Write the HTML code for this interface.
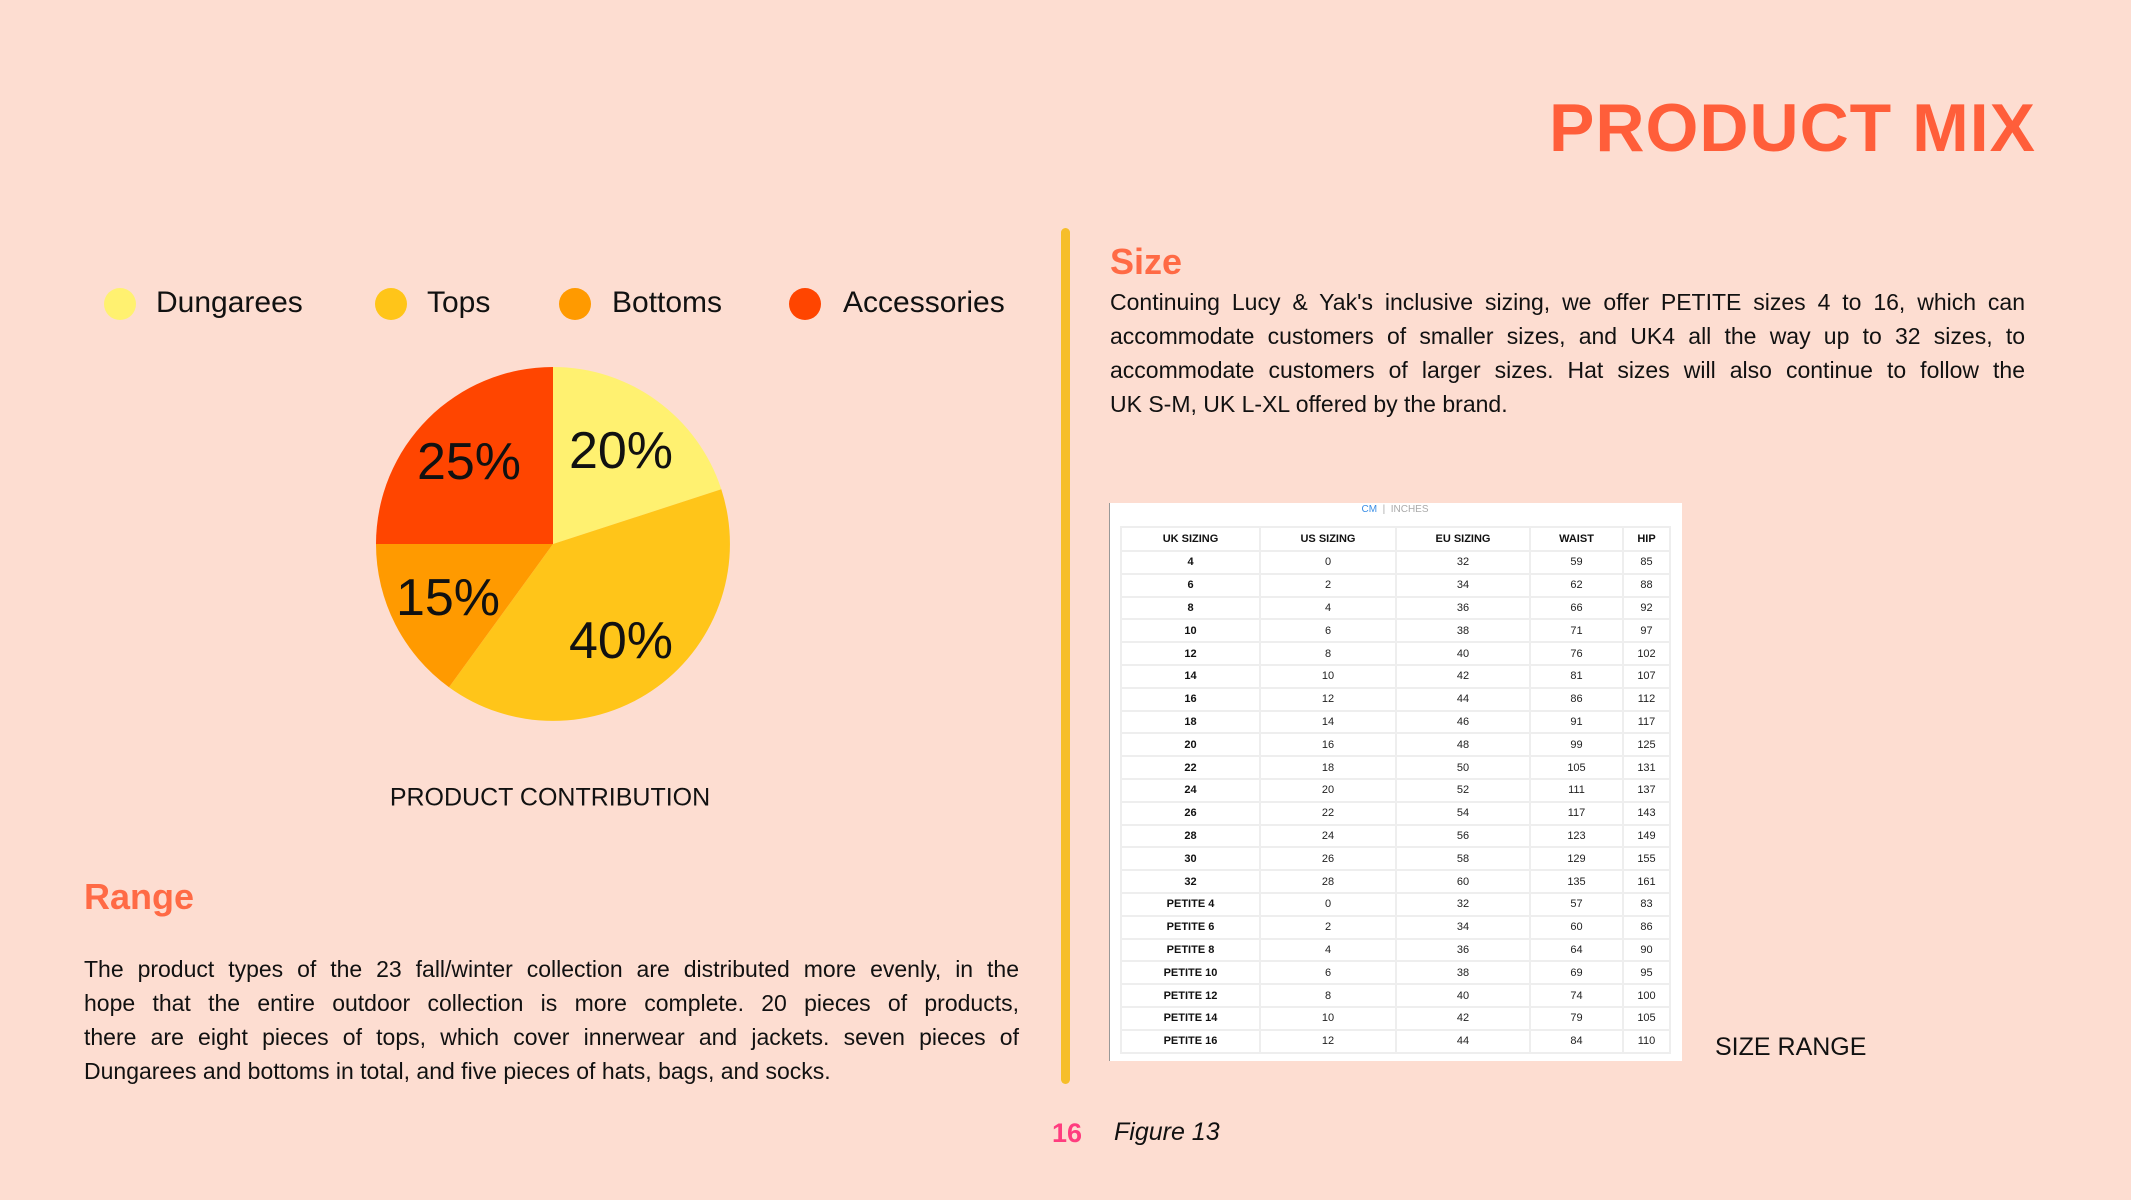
<!DOCTYPE html>
<html><head><meta charset="utf-8"><style>
*{margin:0;padding:0;box-sizing:border-box}
body{width:2131px;height:1200px;background:#FDDDD1;font-family:"Liberation Sans",sans-serif;position:relative;overflow:hidden;color:#111}
.a{position:absolute;white-space:nowrap}
.title{right:95px;top:89px;font-size:68px;font-weight:bold;color:#FF5E3A;letter-spacing:1px}
.leg{font-size:30px;top:286px}
.dot{position:absolute;width:32px;height:32px;border-radius:50%;top:288px}
.pl{font-size:52px;color:#111;transform:translate(-50%,-50%)}
.h{font-size:36px;font-weight:bold;color:#FF6A45}
.para div{text-align:justify;text-align-last:justify;height:34px;white-space:nowrap}
.para div.last{text-align-last:left}
.para{position:absolute;font-size:23px;line-height:34px}
table{border-collapse:collapse;font-size:11px;color:#222;position:absolute;left:1120px;top:526px;width:551px}
td,th{border:2px solid #eee;text-align:center;height:22.8px;padding:0}
th{font-weight:bold;color:#111;height:24px}
td:first-child{font-weight:bold;color:#111}
</style></head><body>
<div class="a title">PRODUCT MIX</div>

<div class="dot" style="left:104px;background:#FFF170"></div>
<div class="a leg" style="left:156px">Dungarees</div>
<div class="dot" style="left:375px;background:#FFC519"></div>
<div class="a leg" style="left:427px">Tops</div>
<div class="dot" style="left:559px;background:#FF9A00"></div>
<div class="a leg" style="left:612px">Bottoms</div>
<div class="dot" style="left:789px;background:#FF4500"></div>
<div class="a leg" style="left:843px">Accessories</div>

<svg class="a" style="left:0;top:0" width="1100" height="800">
<path d="M553,544 L553,367 A177,177 0 0 1 721.3,489.3 Z" fill="#FFF170"/>
<path d="M553,544 L721.3,489.3 A177,177 0 0 1 449,687.2 Z" fill="#FFC519"/>
<path d="M553,544 L449,687.2 A177,177 0 0 1 376,544 Z" fill="#FF9A00"/>
<path d="M553,544 L376,544 A177,177 0 0 1 553,367 Z" fill="#FF4500"/>
</svg>
<div class="a pl" style="left:469px;top:462px">25%</div>
<div class="a pl" style="left:621px;top:451px">20%</div>
<div class="a pl" style="left:448px;top:598px">15%</div>
<div class="a pl" style="left:621px;top:641px">40%</div>
<div class="a" style="left:550px;top:798px;transform:translate(-50%,-50%);font-size:25px">PRODUCT CONTRIBUTION</div>

<div class="a h" style="left:84px;top:876px">Range</div>
<div class="para" style="left:84px;top:952px;width:935px">
<div>The product types of the 23 fall/winter collection are distributed more evenly, in the</div>
<div>hope that the entire outdoor collection is more complete. 20 pieces of products,</div>
<div>there are eight pieces of tops, which cover innerwear and jackets. seven pieces of</div>
<div class="last">Dungarees and bottoms in total, and five pieces of hats, bags, and socks.</div>
</div>

<div class="a" style="left:1061px;top:228px;width:9px;height:856px;background:#F6BE2A;border-radius:5px"></div>

<div class="a h" style="left:1110px;top:241px">Size</div>
<div class="para" style="left:1110px;top:285px;width:915px">
<div>Continuing Lucy &amp; Yak's inclusive sizing, we offer PETITE sizes 4 to 16, which can</div>
<div>accommodate customers of smaller sizes, and UK4 all the way up to 32 sizes, to</div>
<div>accommodate customers of larger sizes. Hat sizes will also continue to follow the</div>
<div class="last">UK S-M, UK L-XL offered by the brand.</div>
</div>

<div class="a" style="left:1109px;top:503px;width:573px;height:558px;background:#fff;border-left:1px solid #999"></div>
<div class="a" style="left:1395px;top:504px;transform:translateX(-50%);font-size:10px;color:#aaa"><span style="color:#3a8ee6">CM</span> &nbsp;|&nbsp; INCHES</div>
<table>
<tr><th style="width:139px">UK SIZING</th><th style="width:136px">US SIZING</th><th style="width:134px">EU SIZING</th><th style="width:93px">WAIST</th><th>HIP</th></tr>
<tr><td>4</td><td>0</td><td>32</td><td>59</td><td>85</td></tr>
<tr><td>6</td><td>2</td><td>34</td><td>62</td><td>88</td></tr>
<tr><td>8</td><td>4</td><td>36</td><td>66</td><td>92</td></tr>
<tr><td>10</td><td>6</td><td>38</td><td>71</td><td>97</td></tr>
<tr><td>12</td><td>8</td><td>40</td><td>76</td><td>102</td></tr>
<tr><td>14</td><td>10</td><td>42</td><td>81</td><td>107</td></tr>
<tr><td>16</td><td>12</td><td>44</td><td>86</td><td>112</td></tr>
<tr><td>18</td><td>14</td><td>46</td><td>91</td><td>117</td></tr>
<tr><td>20</td><td>16</td><td>48</td><td>99</td><td>125</td></tr>
<tr><td>22</td><td>18</td><td>50</td><td>105</td><td>131</td></tr>
<tr><td>24</td><td>20</td><td>52</td><td>111</td><td>137</td></tr>
<tr><td>26</td><td>22</td><td>54</td><td>117</td><td>143</td></tr>
<tr><td>28</td><td>24</td><td>56</td><td>123</td><td>149</td></tr>
<tr><td>30</td><td>26</td><td>58</td><td>129</td><td>155</td></tr>
<tr><td>32</td><td>28</td><td>60</td><td>135</td><td>161</td></tr>
<tr><td>PETITE 4</td><td>0</td><td>32</td><td>57</td><td>83</td></tr>
<tr><td>PETITE 6</td><td>2</td><td>34</td><td>60</td><td>86</td></tr>
<tr><td>PETITE 8</td><td>4</td><td>36</td><td>64</td><td>90</td></tr>
<tr><td>PETITE 10</td><td>6</td><td>38</td><td>69</td><td>95</td></tr>
<tr><td>PETITE 12</td><td>8</td><td>40</td><td>74</td><td>100</td></tr>
<tr><td>PETITE 14</td><td>10</td><td>42</td><td>79</td><td>105</td></tr>
<tr><td>PETITE 16</td><td>12</td><td>44</td><td>84</td><td>110</td></tr>
</table>

<div class="a" style="left:1715px;top:1033px;font-size:25px">SIZE RANGE</div>
<div class="a" style="left:1052px;top:1118px;font-size:27px;font-weight:bold;color:#FF3D7F">16</div>
<div class="a" style="left:1114px;top:1118px;font-size:25px;font-style:italic">Figure 13</div>
</body></html>
